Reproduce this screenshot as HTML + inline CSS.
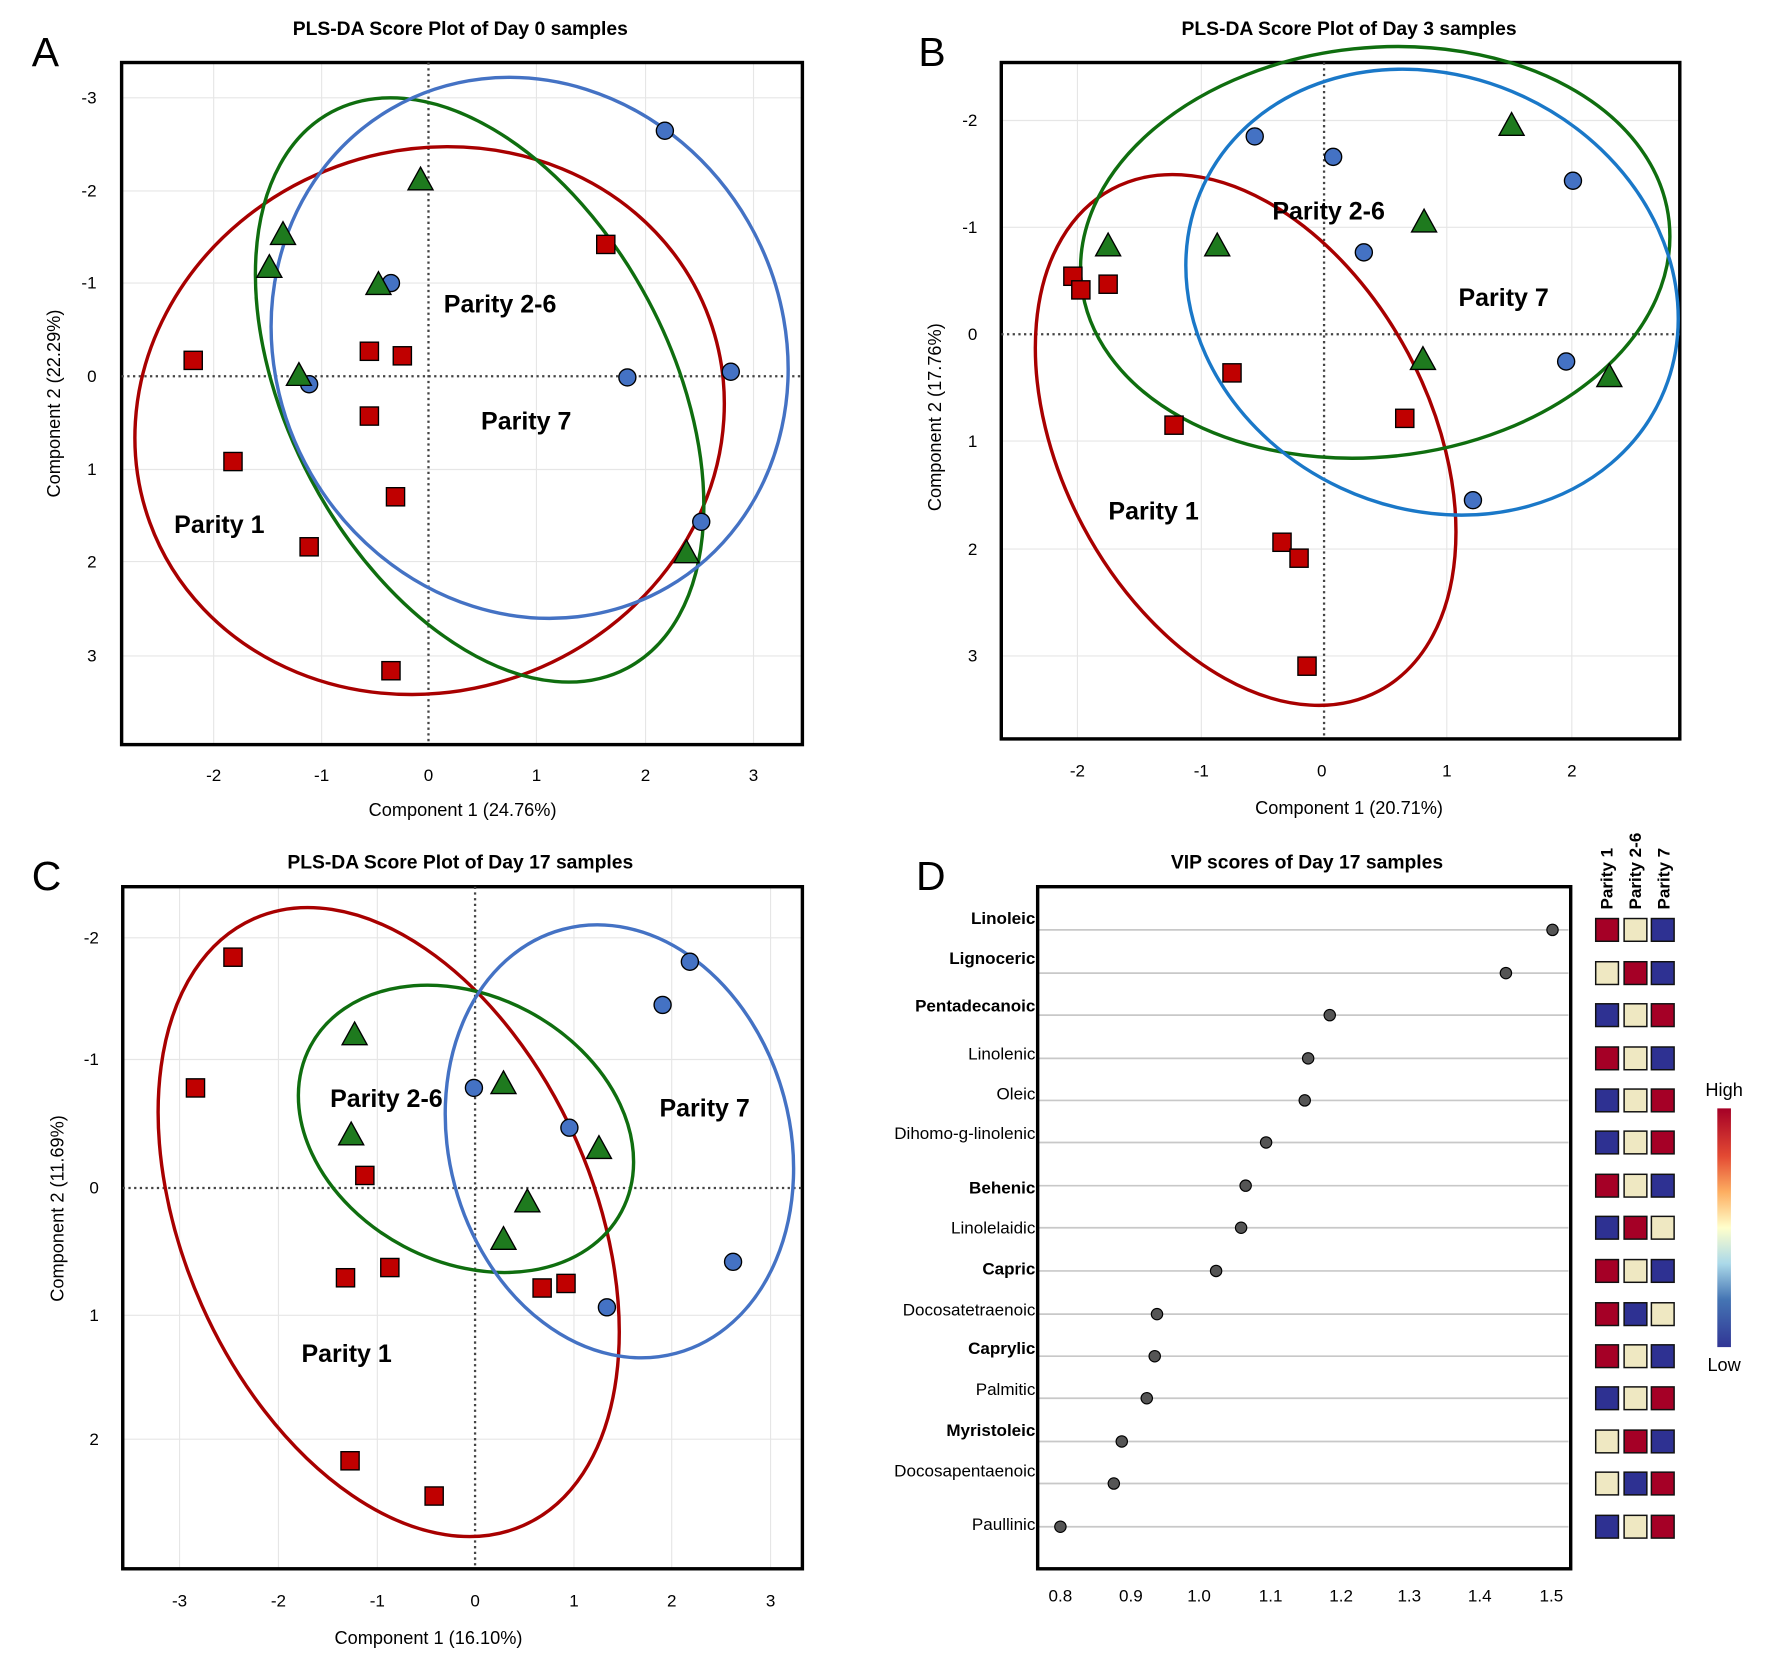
<!DOCTYPE html>
<html><head><meta charset="utf-8"><style>
html,body{margin:0;padding:0;background:#fff;}
svg{display:block;}
text{font-family:"Liberation Sans",sans-serif;}
</style></head><body>
<svg width="1773" height="1662" viewBox="0 0 1560 1462" preserveAspectRatio="none" xmlns="http://www.w3.org/2000/svg">
<defs>
<linearGradient id="cb" x1="0" y1="0" x2="0" y2="1">
<stop offset="0" stop-color="#a50026"/><stop offset="0.2" stop-color="#e34a33"/><stop offset="0.35" stop-color="#fdae61"/><stop offset="0.5" stop-color="#ffffcc"/><stop offset="0.65" stop-color="#abd9e9"/><stop offset="0.8" stop-color="#4575b4"/><stop offset="1" stop-color="#313695"/>
</linearGradient>
<g id="sq"><rect x="-8" y="-8" width="16" height="16" fill="#c00000" stroke="#000" stroke-width="1.2"/></g>
<g id="ci"><circle r="7.5" fill="#4472c4" stroke="#000" stroke-width="1.2"/></g>
<g id="tr"><polygon points="0,-11 11,9 -11,9" fill="#1e7a1e" stroke="#000" stroke-width="1.2"/></g>
<g id="dt"><circle r="5" fill="#555" stroke="#000" stroke-width="1"/></g>
</defs>

<!-- Panel A -->
<g>
<text x="28" y="58" font-size="36">A</text>
<text x="405" y="31" font-size="17" font-weight="bold" text-anchor="middle">PLS-DA Score Plot of Day 0 samples</text>
<g stroke="#e6e6e6" stroke-width="1">
<line x1="188" y1="55" x2="188" y2="655"/><line x1="283" y1="55" x2="283" y2="655"/><line x1="472" y1="55" x2="472" y2="655"/><line x1="568" y1="55" x2="568" y2="655"/><line x1="663" y1="55" x2="663" y2="655"/>
<line x1="107" y1="86" x2="706" y2="86"/><line x1="107" y1="168" x2="706" y2="168"/><line x1="107" y1="249" x2="706" y2="249"/><line x1="107" y1="413" x2="706" y2="413"/><line x1="107" y1="494" x2="706" y2="494"/><line x1="107" y1="577" x2="706" y2="577"/>
</g>
<rect x="107" y="55" width="599" height="600" fill="none" stroke="#000" stroke-width="3"/>
<line x1="377" y1="55" x2="377" y2="655" stroke="#444" stroke-width="2" stroke-dasharray="2,3"/>
<line x1="107" y1="331" x2="706" y2="331" stroke="#444" stroke-width="2" stroke-dasharray="2,3"/>
<g font-size="15" text-anchor="middle"><text x="188" y="687">-2</text><text x="283" y="687">-1</text><text x="377" y="687">0</text><text x="472" y="687">1</text><text x="568" y="687">2</text><text x="663" y="687">3</text></g>
<g font-size="15" text-anchor="end"><text x="85" y="91">-3</text><text x="85" y="173">-2</text><text x="85" y="254">-1</text><text x="85" y="336">0</text><text x="85" y="418">1</text><text x="85" y="499">2</text><text x="85" y="582">3</text></g>
<text x="407" y="718" font-size="16" text-anchor="middle">Component 1 (24.76%)</text>
<text transform="translate(53,355) rotate(-90)" font-size="16" text-anchor="middle">Component 2 (22.29%)</text>
<g fill="none" stroke-width="3">
<ellipse cx="378" cy="370" rx="262" ry="238" transform="rotate(-20 378 370)" stroke="#a80000"/>
<ellipse cx="422" cy="343" rx="277" ry="168" transform="rotate(62 422 343)" stroke="#0f6e0f"/>
<ellipse cx="466" cy="306" rx="222" ry="243" transform="rotate(-30 466 306)" stroke="#4472c4"/>
</g>
<use href="#sq" x="170" y="317"/><use href="#sq" x="205" y="406"/><use href="#sq" x="272" y="481"/><use href="#sq" x="325" y="309"/><use href="#sq" x="354" y="313"/><use href="#sq" x="325" y="366"/><use href="#sq" x="348" y="437"/><use href="#sq" x="344" y="590"/><use href="#sq" x="533" y="215"/>
<use href="#ci" x="585" y="115"/><use href="#ci" x="344" y="249"/><use href="#ci" x="272" y="338"/><use href="#ci" x="552" y="332"/><use href="#ci" x="643" y="327"/><use href="#ci" x="617" y="459"/>
<use href="#tr" x="370" y="158"/><use href="#tr" x="249" y="206"/><use href="#tr" x="237" y="235"/><use href="#tr" x="333" y="250"/><use href="#tr" x="263" y="330"/><use href="#tr" x="604" y="486"/>
<g font-size="22" font-weight="bold" text-anchor="middle"><text x="440" y="275">Parity 2-6</text><text x="463" y="378">Parity 7</text><text x="193" y="469">Parity 1</text></g>
</g>

<!-- Panel B -->
<g>
<text x="808" y="58" font-size="36">B</text>
<text x="1187" y="31" font-size="17" font-weight="bold" text-anchor="middle">PLS-DA Score Plot of Day 3 samples</text>
<g stroke="#e6e6e6" stroke-width="1">
<line x1="948" y1="55" x2="948" y2="650"/><line x1="1057" y1="55" x2="1057" y2="650"/><line x1="1273" y1="55" x2="1273" y2="650"/><line x1="1383" y1="55" x2="1383" y2="650"/>
<line x1="881" y1="106" x2="1478" y2="106"/><line x1="881" y1="200" x2="1478" y2="200"/><line x1="881" y1="388" x2="1478" y2="388"/><line x1="881" y1="483" x2="1478" y2="483"/><line x1="881" y1="577" x2="1478" y2="577"/>
</g>
<rect x="881" y="55" width="597" height="595" fill="none" stroke="#000" stroke-width="3"/>
<line x1="1165" y1="55" x2="1165" y2="650" stroke="#444" stroke-width="2" stroke-dasharray="2,3"/>
<line x1="881" y1="294" x2="1478" y2="294" stroke="#444" stroke-width="2" stroke-dasharray="2,3"/>
<g font-size="15" text-anchor="middle"><text x="948" y="683">-2</text><text x="1057" y="683">-1</text><text x="1163" y="683">0</text><text x="1273" y="683">1</text><text x="1383" y="683">2</text></g>
<g font-size="15" text-anchor="end"><text x="860" y="111">-2</text><text x="860" y="205">-1</text><text x="860" y="299">0</text><text x="860" y="393">1</text><text x="860" y="488">2</text><text x="860" y="582">3</text></g>
<text x="1187" y="716" font-size="16" text-anchor="middle">Component 1 (20.71%)</text>
<text transform="translate(828,367) rotate(-90)" font-size="16" text-anchor="middle">Component 2 (17.76%)</text>
<g fill="none" stroke-width="3">
<ellipse cx="1096" cy="387" rx="250" ry="162" transform="rotate(62 1096 387)" stroke="#a80000"/>
<ellipse cx="1210" cy="222" rx="260" ry="180" transform="rotate(-6 1210 222)" stroke="#0f6e0f"/>
<ellipse cx="1260" cy="257" rx="222" ry="190" transform="rotate(25 1260 257)" stroke="#1a78c8"/>
</g>
<use href="#sq" x="944" y="243"/><use href="#sq" x="951" y="255"/><use href="#sq" x="975" y="250"/><use href="#sq" x="1084" y="328"/><use href="#sq" x="1033" y="374"/><use href="#sq" x="1236" y="368"/><use href="#sq" x="1128" y="477"/><use href="#sq" x="1143" y="491"/><use href="#sq" x="1150" y="586"/>
<use href="#ci" x="1104" y="120"/><use href="#ci" x="1173" y="138"/><use href="#ci" x="1384" y="159"/><use href="#ci" x="1200" y="222"/><use href="#ci" x="1378" y="318"/><use href="#ci" x="1296" y="440"/>
<use href="#tr" x="1330" y="110"/><use href="#tr" x="975" y="216"/><use href="#tr" x="1071" y="216"/><use href="#tr" x="1253" y="195"/><use href="#tr" x="1252" y="316"/><use href="#tr" x="1416" y="331"/>
<g font-size="22" font-weight="bold" text-anchor="middle"><text x="1169" y="193">Parity 2-6</text><text x="1323" y="269">Parity 7</text><text x="1015" y="457">Parity 1</text></g>
</g>

<!-- Panel C -->
<g>
<text x="28" y="783" font-size="36">C</text>
<text x="405" y="764" font-size="17" font-weight="bold" text-anchor="middle">PLS-DA Score Plot of Day 17 samples</text>
<g stroke="#e6e6e6" stroke-width="1">
<line x1="158" y1="780" x2="158" y2="1380"/><line x1="245" y1="780" x2="245" y2="1380"/><line x1="332" y1="780" x2="332" y2="1380"/><line x1="505" y1="780" x2="505" y2="1380"/><line x1="591" y1="780" x2="591" y2="1380"/><line x1="678" y1="780" x2="678" y2="1380"/>
<line x1="108" y1="825" x2="706" y2="825"/><line x1="108" y1="932" x2="706" y2="932"/><line x1="108" y1="1157" x2="706" y2="1157"/><line x1="108" y1="1266" x2="706" y2="1266"/>
</g>
<rect x="108" y="780" width="598" height="600" fill="none" stroke="#000" stroke-width="3"/>
<line x1="418" y1="780" x2="418" y2="1380" stroke="#444" stroke-width="2" stroke-dasharray="2,3"/>
<line x1="108" y1="1045" x2="706" y2="1045" stroke="#444" stroke-width="2" stroke-dasharray="2,3"/>
<g font-size="15" text-anchor="middle"><text x="158" y="1413">-3</text><text x="245" y="1413">-2</text><text x="332" y="1413">-1</text><text x="418" y="1413">0</text><text x="505" y="1413">1</text><text x="591" y="1413">2</text><text x="678" y="1413">3</text></g>
<g font-size="15" text-anchor="end"><text x="87" y="830">-2</text><text x="87" y="937">-1</text><text x="87" y="1050">0</text><text x="87" y="1162">1</text><text x="87" y="1271">2</text></g>
<text x="377" y="1446" font-size="16" text-anchor="middle">Component 1 (16.10%)</text>
<text transform="translate(56,1063) rotate(-90)" font-size="16" text-anchor="middle">Component 2 (11.69%)</text>
<g fill="none" stroke-width="3">
<ellipse cx="342" cy="1075" rx="292" ry="180" transform="rotate(66 342 1075)" stroke="#a80000"/>
<ellipse cx="410" cy="993" rx="155" ry="117" transform="rotate(28 410 993)" stroke="#0f6e0f"/>
<ellipse cx="545" cy="1004" rx="150" ry="193" transform="rotate(-15 545 1004)" stroke="#4472c4"/>
</g>
<use href="#sq" x="205" y="842"/><use href="#sq" x="172" y="957"/><use href="#sq" x="321" y="1034"/><use href="#sq" x="304" y="1124"/><use href="#sq" x="343" y="1115"/><use href="#sq" x="477" y="1133"/><use href="#sq" x="498" y="1129"/><use href="#sq" x="308" y="1285"/><use href="#sq" x="382" y="1316"/>
<use href="#ci" x="607" y="846"/><use href="#ci" x="583" y="884"/><use href="#ci" x="417" y="957"/><use href="#ci" x="501" y="992"/><use href="#ci" x="645" y="1110"/><use href="#ci" x="534" y="1150"/>
<use href="#tr" x="312" y="910"/><use href="#tr" x="443" y="953"/><use href="#tr" x="309" y="998"/><use href="#tr" x="527" y="1010"/><use href="#tr" x="464" y="1057"/><use href="#tr" x="443" y="1090"/>
<g font-size="22" font-weight="bold" text-anchor="middle"><text x="340" y="974">Parity 2-6</text><text x="620" y="982">Parity 7</text><text x="305" y="1198">Parity 1</text></g>
</g>

<!-- Panel D -->
<g>
<text x="806" y="783" font-size="36">D</text>
<text x="1150" y="764" font-size="17" font-weight="bold" text-anchor="middle">VIP scores of Day 17 samples</text>
<g stroke="#c8c8c8" stroke-width="1.5">
<line x1="913" y1="818" x2="1380" y2="818"/><line x1="913" y1="856" x2="1380" y2="856"/><line x1="913" y1="893" x2="1380" y2="893"/><line x1="913" y1="931" x2="1380" y2="931"/><line x1="913" y1="968" x2="1380" y2="968"/><line x1="913" y1="1005" x2="1380" y2="1005"/><line x1="913" y1="1043" x2="1380" y2="1043"/><line x1="913" y1="1080" x2="1380" y2="1080"/><line x1="913" y1="1118" x2="1380" y2="1118"/><line x1="913" y1="1156" x2="1380" y2="1156"/><line x1="913" y1="1193" x2="1380" y2="1193"/><line x1="913" y1="1230" x2="1380" y2="1230"/><line x1="913" y1="1268" x2="1380" y2="1268"/><line x1="913" y1="1305" x2="1380" y2="1305"/><line x1="913" y1="1343" x2="1380" y2="1343"/>
</g>
<rect x="913" y="780" width="469" height="600" fill="none" stroke="#000" stroke-width="3"/>
<use href="#dt" x="1366" y="818"/><use href="#dt" x="1325" y="856"/><use href="#dt" x="1170" y="893"/><use href="#dt" x="1151" y="931"/><use href="#dt" x="1148" y="968"/><use href="#dt" x="1114" y="1005"/><use href="#dt" x="1096" y="1043"/><use href="#dt" x="1092" y="1080"/><use href="#dt" x="1070" y="1118"/><use href="#dt" x="1018" y="1156"/><use href="#dt" x="1016" y="1193"/><use href="#dt" x="1009" y="1230"/><use href="#dt" x="987" y="1268"/><use href="#dt" x="980" y="1305"/><use href="#dt" x="933" y="1343"/>
<g font-size="15" text-anchor="end">
<text x="911" y="813" font-weight="bold">Linoleic</text>
<text x="911" y="848" font-weight="bold">Lignoceric</text>
<text x="911" y="890" font-weight="bold">Pentadecanoic</text>
<text x="911" y="932">Linolenic</text>
<text x="911" y="967">Oleic</text>
<text x="911" y="1002">Dihomo-g-linolenic</text>
<text x="911" y="1050" font-weight="bold">Behenic</text>
<text x="911" y="1085">Linolelaidic</text>
<text x="911" y="1121" font-weight="bold">Capric</text>
<text x="911" y="1157">Docosatetraenoic</text>
<text x="911" y="1191" font-weight="bold">Caprylic</text>
<text x="911" y="1227">Palmitic</text>
<text x="911" y="1263" font-weight="bold">Myristoleic</text>
<text x="911" y="1299">Docosapentaenoic</text>
<text x="911" y="1346">Paullinic</text>
</g>
<g font-size="15" text-anchor="middle"><text x="933" y="1409">0.8</text><text x="995" y="1409">0.9</text><text x="1055" y="1409">1.0</text><text x="1118" y="1409">1.1</text><text x="1180" y="1409">1.2</text><text x="1240" y="1409">1.3</text><text x="1302" y="1409">1.4</text><text x="1365" y="1409">1.5</text></g>
<g font-size="15" font-weight="bold">
<text transform="translate(1419,800) rotate(-90)">Parity 1</text>
<text transform="translate(1444,800) rotate(-90)">Parity 2-6</text>
<text transform="translate(1469,800) rotate(-90)">Parity 7</text>
</g>
<g stroke="#111" stroke-width="1.3">
<rect x="1404" y="808" width="20" height="20" fill="#a50026"/><rect x="1429" y="808" width="20" height="20" fill="#efe8c2"/><rect x="1453" y="808" width="20" height="20" fill="#2e3192"/>
<rect x="1404" y="846" width="20" height="20" fill="#efe8c2"/><rect x="1429" y="846" width="20" height="20" fill="#a50026"/><rect x="1453" y="846" width="20" height="20" fill="#2e3192"/>
<rect x="1404" y="883" width="20" height="20" fill="#2e3192"/><rect x="1429" y="883" width="20" height="20" fill="#efe8c2"/><rect x="1453" y="883" width="20" height="20" fill="#a50026"/>
<rect x="1404" y="921" width="20" height="20" fill="#a50026"/><rect x="1429" y="921" width="20" height="20" fill="#efe8c2"/><rect x="1453" y="921" width="20" height="20" fill="#2e3192"/>
<rect x="1404" y="958" width="20" height="20" fill="#2e3192"/><rect x="1429" y="958" width="20" height="20" fill="#efe8c2"/><rect x="1453" y="958" width="20" height="20" fill="#a50026"/>
<rect x="1404" y="995" width="20" height="20" fill="#2e3192"/><rect x="1429" y="995" width="20" height="20" fill="#efe8c2"/><rect x="1453" y="995" width="20" height="20" fill="#a50026"/>
<rect x="1404" y="1033" width="20" height="20" fill="#a50026"/><rect x="1429" y="1033" width="20" height="20" fill="#efe8c2"/><rect x="1453" y="1033" width="20" height="20" fill="#2e3192"/>
<rect x="1404" y="1070" width="20" height="20" fill="#2e3192"/><rect x="1429" y="1070" width="20" height="20" fill="#a50026"/><rect x="1453" y="1070" width="20" height="20" fill="#efe8c2"/>
<rect x="1404" y="1108" width="20" height="20" fill="#a50026"/><rect x="1429" y="1108" width="20" height="20" fill="#efe8c2"/><rect x="1453" y="1108" width="20" height="20" fill="#2e3192"/>
<rect x="1404" y="1146" width="20" height="20" fill="#a50026"/><rect x="1429" y="1146" width="20" height="20" fill="#2e3192"/><rect x="1453" y="1146" width="20" height="20" fill="#efe8c2"/>
<rect x="1404" y="1183" width="20" height="20" fill="#a50026"/><rect x="1429" y="1183" width="20" height="20" fill="#efe8c2"/><rect x="1453" y="1183" width="20" height="20" fill="#2e3192"/>
<rect x="1404" y="1220" width="20" height="20" fill="#2e3192"/><rect x="1429" y="1220" width="20" height="20" fill="#efe8c2"/><rect x="1453" y="1220" width="20" height="20" fill="#a50026"/>
<rect x="1404" y="1258" width="20" height="20" fill="#efe8c2"/><rect x="1429" y="1258" width="20" height="20" fill="#a50026"/><rect x="1453" y="1258" width="20" height="20" fill="#2e3192"/>
<rect x="1404" y="1295" width="20" height="20" fill="#efe8c2"/><rect x="1429" y="1295" width="20" height="20" fill="#2e3192"/><rect x="1453" y="1295" width="20" height="20" fill="#a50026"/>
<rect x="1404" y="1333" width="20" height="20" fill="#2e3192"/><rect x="1429" y="1333" width="20" height="20" fill="#efe8c2"/><rect x="1453" y="1333" width="20" height="20" fill="#a50026"/>
</g>
<rect x="1511" y="975" width="12" height="210" fill="url(#cb)"/>
<text x="1517" y="964" font-size="16" text-anchor="middle">High</text>
<text x="1517" y="1206" font-size="16" text-anchor="middle">Low</text>
</g>
</svg>
</body></html>
